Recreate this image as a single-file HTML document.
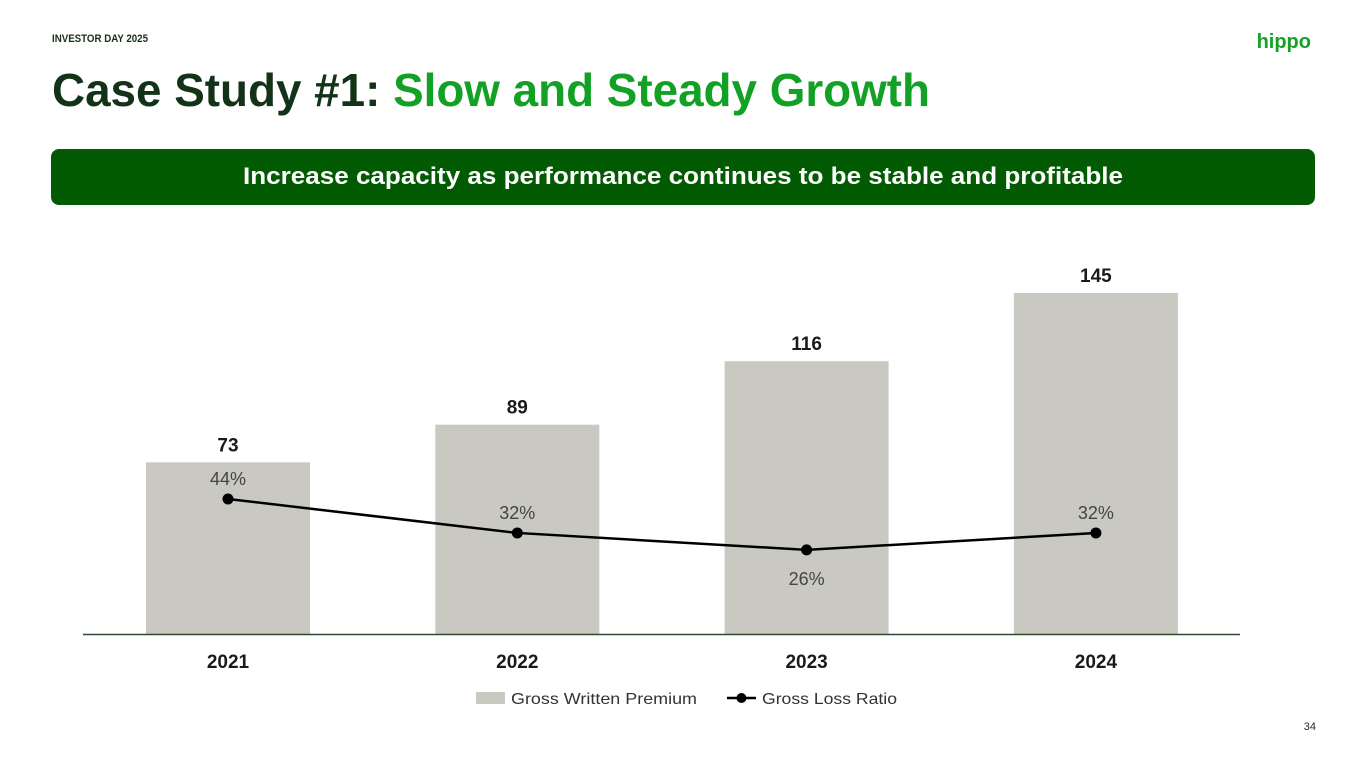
<!DOCTYPE html>
<html><head><meta charset="utf-8"><style>
html,body{margin:0;padding:0;background:#fff;}
svg{display:block;font-family:"Liberation Sans",sans-serif;}
</style></head><body>
<svg id="s" width="1365" height="768" viewBox="0 0 1365 768">
<text x="52" y="42" font-size="11" font-weight="bold" fill="#1a2e1a" textLength="96" lengthAdjust="spacingAndGlyphs">INVESTOR DAY 2025</text>
<text x="1311" y="48" font-size="20" font-weight="bold" fill="#16a025" text-anchor="end">hippo</text>
<text x="52" y="106" font-size="46" font-weight="bold" textLength="878" lengthAdjust="spacingAndGlyphs"><tspan fill="#123318">Case Study #1: </tspan><tspan fill="#12a025">Slow and Steady Growth</tspan></text>
<rect x="51" y="149" width="1264" height="56" rx="8" fill="#025a03"/>
<text x="243" y="184" font-size="24" font-weight="bold" fill="#fff" textLength="880" lengthAdjust="spacingAndGlyphs">Increase capacity as performance continues to be stable and profitable</text>
<g id="chart"></g>
<line x1="83" y1="634.5" x2="1240" y2="634.5" stroke="#2f4a2f" stroke-width="1.5"/>
<rect x="476" y="692" width="29" height="12" fill="#c9c9c1"/>
<text x="511" y="704" font-size="16" fill="#333" textLength="186" lengthAdjust="spacingAndGlyphs">Gross Written Premium</text>
<line x1="727" y1="698" x2="756" y2="698" stroke="#000" stroke-width="2.5"/>
<circle cx="741.5" cy="698" r="5" fill="#000"/>
<text x="762" y="704" font-size="16" fill="#333" textLength="135" lengthAdjust="spacingAndGlyphs">Gross Loss Ratio</text>
<text x="1316" y="730" font-size="11" fill="#1a2e1a" text-anchor="end">34</text>
</svg>
<script>
const categories = ["2021","2022","2023","2024"];
const premium = [73, 89, 116, 145];
const lossRatio = [44, 32, 26, 32];
const lossLabelBelow = [false, false, true, false];

const NS = "http://www.w3.org/2000/svg";
const g = document.getElementById("chart");
const baseY = 634;
const xPos = i => 228 + i * 289.3;
const yBar = v => baseY - v * (341 / 145);
const yLine = v => 623.5 - v * 2.83;
function mk(tag, attrs) {
  const e = document.createElementNS(NS, tag);
  for (const k in attrs) e.setAttribute(k, attrs[k]);
  g.appendChild(e);
  return e;
}
categories.forEach((c, i) => {
  const x = xPos(i), top = yBar(premium[i]);
  const r = mk("rect", {x: x - 82, y: top, width: 164, height: baseY - top, fill: "#c9c9c1"});
  
  
  const t = mk("text", {x: x, y: top - 11, "font-size": 19, "font-weight": "bold", fill: "#1a1a1a", "text-anchor": "middle"});
  t.textContent = premium[i];
  
  
  const xl = mk("text", {x: x, y: 668, "font-size": 19, "font-weight": "bold", fill: "#1a1a1a", "text-anchor": "middle"});
  xl.textContent = c;
  
  
});
const pts = lossRatio.map((v, i) => xPos(i) + "," + yLine(v)).join(" ");
const pl = mk("polyline", {points: pts, fill: "none", stroke: "#000", "stroke-width": 2.5});


lossRatio.forEach((v, i) => {
  const x = xPos(i), y = yLine(v);
  const c = mk("circle", {cx: x, cy: y, r: 5.5, fill: "#000"});
  
  
  const t = mk("text", {x: x, y: lossLabelBelow[i] ? y + 35 : y - 14, "font-size": 18, fill: "#444", "text-anchor": "middle"});
  t.textContent = v + "%";
  
  
});
</script>
</body></html>
